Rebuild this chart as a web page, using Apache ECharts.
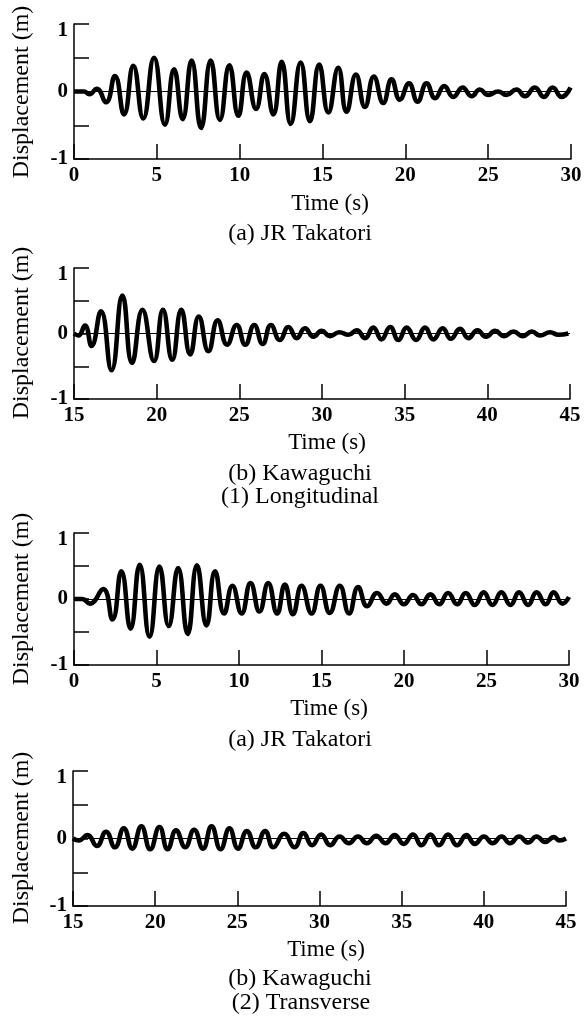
<!DOCTYPE html>
<html><head><meta charset="utf-8">
<script src="https://cdn.jsdelivr.net/npm/echarts@6/dist/echarts.min.js"></script>
<style>html,body{margin:0;padding:0;background:#fff}#c{width:587px;height:1020px}</style>
</head><body><div id="c"></div>
<script>
// Panel 1: JR Takatori, longitudinal
const p1Time = [0, 0.6, 0.93, 1.37, 1.93, 2.47, 3.02, 3.58, 4.18, 4.83, 5.49, 6.04, 6.56, 7.10, 7.67, 8.25, 8.81, 9.38, 9.92, 10.42, 10.99, 11.49, 12.03, 12.54, 13.08, 13.68, 14.24, 14.8, 15.35, 15.95, 16.45, 17.02, 17.56, 18.1, 18.67, 19.17, 19.67, 20.22, 20.74, 21.28, 21.8, 22.35, 22.89, 23.46, 24.0, 24.5, 25.0, 25.6, 26.1, 26.71, 27.22, 27.82, 28.36, 28.89, 29.43, 29.97];
const p1Disp = [0, 0, -0.04, 0.04, -0.16, 0.23, -0.34, 0.38, -0.40, 0.50, -0.49, 0.33, -0.41, 0.46, -0.54, 0.46, -0.42, 0.39, -0.36, 0.28, -0.26, 0.26, -0.34, 0.44, -0.48, 0.43, -0.44, 0.40, -0.31, 0.35, -0.30, 0.25, -0.23, 0.22, -0.17, 0.18, -0.12, 0.12, -0.15, 0.12, -0.10, 0.08, -0.08, 0.06, -0.07, 0.03, -0.05, 0.0, -0.05, 0.03, -0.07, 0.06, -0.08, 0.06, -0.08, 0.06];
// Panel 2: Kawaguchi, longitudinal
const p2Time = [15, 15.26, 15.66, 16.06, 16.63, 17.27, 17.93, 18.51, 19.14, 19.84, 20.38, 20.94, 21.49, 22.03, 22.55, 23.13, 23.69, 24.26, 24.84, 25.36, 25.90, 26.41, 26.91, 27.45, 27.97, 28.47, 28.97, 29.48, 29.98, 30.48, 31.05, 31.6, 32.1, 32.6, 33.1, 33.6, 34.12, 34.62, 35.12, 35.69, 36.23, 36.74, 37.3, 37.79, 38.35, 38.85, 39.4, 39.92, 40.47, 41.01, 41.58, 42.14, 42.69, 43.19, 43.8, 44.3, 44.9];
const p2Disp = [0, -0.03, 0.12, -0.19, 0.34, -0.56, 0.58, -0.45, 0.36, -0.42, 0.36, -0.40, 0.36, -0.32, 0.26, -0.27, 0.20, -0.17, 0.13, -0.17, 0.13, -0.16, 0.13, -0.10, 0.10, -0.07, 0.08, -0.05, 0.04, -0.04, 0.02, -0.02, 0.05, -0.07, 0.09, -0.09, 0.10, -0.10, 0.09, -0.10, 0.09, -0.09, 0.08, -0.08, 0.07, -0.07, 0.05, -0.05, 0.04, -0.04, 0.03, -0.04, 0.03, -0.03, 0.02, -0.02, 0];
// Panel 3: JR Takatori, transverse
const p3Time = [0, 0.5, 0.96, 1.77, 2.33, 2.87, 3.43, 3.98, 4.58, 5.18, 5.74, 6.31, 6.89, 7.45, 8.03, 8.55, 9.1, 9.6, 10.16, 10.7, 11.24, 11.77, 12.31, 12.78, 13.27, 13.79, 14.4, 14.94, 15.5, 16.11, 16.67, 17.22, 17.77, 18.37, 18.94, 19.44, 19.99, 20.55, 21.06, 21.6, 22.13, 22.67, 23.22, 23.74, 24.29, 24.83, 25.36, 25.9, 26.45, 26.97, 27.52, 28.03, 28.59, 29.07, 29.6, 30];
const p3Disp = [0, 0, -0.07, 0.15, -0.31, 0.42, -0.45, 0.52, -0.57, 0.49, -0.41, 0.47, -0.53, 0.51, -0.40, 0.42, -0.22, 0.20, -0.22, 0.24, -0.19, 0.24, -0.22, 0.22, -0.23, 0.20, -0.22, 0.20, -0.21, 0.20, -0.22, 0.18, -0.11, 0.09, -0.07, 0.07, -0.08, 0.06, -0.08, 0.07, -0.08, 0.09, -0.08, 0.09, -0.09, 0.10, -0.09, 0.10, -0.09, 0.10, -0.09, 0.10, -0.08, 0.10, -0.07, 0.03];
// Panel 4: Kawaguchi, transverse
const p4Time = [15, 15.35, 15.88, 16.45, 17.01, 17.55, 18.09, 18.61, 19.16, 19.7, 20.26, 20.76, 21.27, 21.83, 22.37, 22.91, 23.43, 23.98, 24.52, 25.04, 25.58, 26.12, 26.69, 27.19, 27.85, 28.48, 29.02, 29.55, 30.1, 30.65, 31.22, 31.79, 32.34, 32.88, 33.45, 34.02, 34.57, 35.12, 35.69, 36.2, 36.75, 37.27, 37.82, 38.37, 38.94, 39.45, 40.0, 40.53, 41.08, 41.59, 42.15, 42.7, 43.21, 43.72, 44.27, 44.6, 45];
const p4Disp = [0, -0.03, 0.05, -0.11, 0.10, -0.13, 0.15, -0.15, 0.18, -0.16, 0.17, -0.16, 0.12, -0.13, 0.13, -0.15, 0.18, -0.16, 0.15, -0.15, 0.11, -0.13, 0.11, -0.13, 0.07, -0.13, 0.08, -0.10, 0.06, -0.10, 0.03, -0.07, 0.03, -0.07, 0.04, -0.07, 0.05, -0.08, 0.06, -0.10, 0.06, -0.10, 0.06, -0.10, 0.05, -0.08, 0.03, -0.07, 0.03, -0.07, 0.03, -0.06, 0.03, -0.05, 0.02, -0.03, 0];

const xRanges = [[0, 30], [15, 45], [0, 30], [15, 45]];
const yTickLabels = {'1': '1', '0': '0', '-1': '-1'};
const xName = 'Time (s)';
const yName = 'Displacement (m)';
const captions = [['(a) JR Takatori'], ['(b) Kawaguchi', '(1) Longitudinal'], ['(a) JR Takatori'], ['(b) Kawaguchi', '(2) Transverse']];

const FONT = '"Liberation Serif", "Times New Roman", serif';
const grids = [
  {left: 74, top: 24, width: 497, height: 135},
  {left: 74, top: 268, width: 496, height: 131},
  {left: 74, top: 533, width: 495, height: 132},
  {left: 73, top: 771, width: 493, height: 135}
];
const xNamePos = [[330, 204], [327, 443], [329, 709], [326, 950]];
const capPos = [[[300, 234]], [[300, 474], [300, 497]], [[300, 740]], [[300, 979], [301, 1003]]];
const yNamePos = [[22, 92], [22, 333], [22, 599], [22, 838]];

const times = [p1Time, p2Time, p3Time, p4Time];
const disps = [p1Disp, p2Disp, p3Disp, p4Disp];

const xAxes = [], yAxes = [], series = [], graphics = [];
for (let i = 0; i < 4; i++) {
  xAxes.push({
    type: 'value', gridIndex: i, min: xRanges[i][0], max: xRanges[i][1], interval: 5,
    axisLine: {show: true, onZero: false, lineStyle: {color: '#000', width: 1.5}},
    axisTick: {show: true, inside: true, length: 15, lineStyle: {color: '#000', width: 1.5}},
    axisLabel: {color: '#000', fontFamily: FONT, fontSize: 21, fontWeight: 'bold', margin: 6},
    splitLine: {show: false}
  });
  yAxes.push({
    type: 'value', gridIndex: i, min: -1, max: 1, interval: 0.5,
    axisLine: {show: true, onZero: false, lineStyle: {color: '#000', width: 1.5}},
    axisTick: {show: true, inside: true, length: 15, lineStyle: {color: '#000', width: 1.5}},
    axisLabel: {
      color: '#000', fontFamily: FONT, fontSize: 21, fontWeight: 'bold', margin: 6,
      formatter: v => {
        const k = String(v);
        if (!(k in yTickLabels)) return '';
        return k === '1' ? '{t|' + yTickLabels[k] + '}' : yTickLabels[k];
      },
      rich: {t: {fontFamily: FONT, fontSize: 21, fontWeight: 'bold', color: '#000', padding: [14, 0, 0, 0]}}
    },
    splitLine: {show: false}
  });
  series.push({
    type: 'line', xAxisIndex: i, yAxisIndex: i,
    data: times[i].map((t, j) => [t, disps[i][j]]),
    smooth: 0.5, symbol: 'none',
    lineStyle: {color: '#000', width: 4.6},
    markLine: {
      silent: true, symbol: ['none', 'none'], label: {show: false},
      lineStyle: {color: '#000', width: 1, type: 'solid'},
      data: [{yAxis: 0}]
    }
  });
  graphics.push({type: 'text', x: xNamePos[i][0], y: xNamePos[i][1],
    style: {text: xName, fontFamily: FONT, fontSize: 23, fill: '#000', align: 'center', verticalAlign: 'middle'}});
  captions[i].forEach((c, k) => {
    graphics.push({type: 'text', x: capPos[i][k][0], y: capPos[i][k][1],
      style: {text: c, fontFamily: FONT, fontSize: 24, fill: '#000', align: 'center', verticalAlign: 'middle'}});
  });
  graphics.push({type: 'text', x: yNamePos[i][0], y: yNamePos[i][1], rotation: Math.PI / 2,
    style: {text: yName, fontFamily: FONT, fontSize: 24, fill: '#000', align: 'center', verticalAlign: 'middle'}});
}

const chart = echarts.init(document.getElementById('c'), null, {renderer: 'canvas'});
chart.setOption({
  animation: false,
  backgroundColor: '#fff',
  grid: grids,
  xAxis: xAxes,
  yAxis: yAxes,
  series: series,
  graphic: graphics
});
</script>
</body></html>
